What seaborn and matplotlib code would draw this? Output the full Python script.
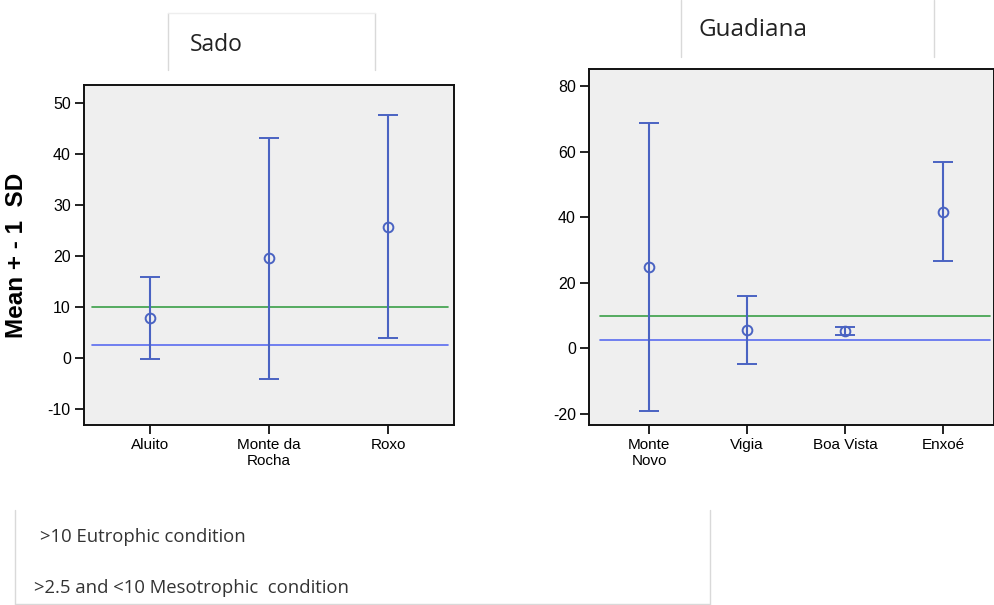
import numpy as np
import pandas as pd
import matplotlib
matplotlib.use("Agg")
import matplotlib.pyplot as plt
import seaborn as sns

# Sado reservoirs: mean and 1 SD
sado_sites = ["Aluito", "Monte da\nRocha", "Roxo"]
sado_mean = [7.8, 19.5, 25.7]
sado_sd = [8.0, 23.7, 21.9]

# Guadiana reservoirs
guad_sites = ["Monte\nNovo", "Vigia", "Boa Vista", "Enxoé"]
guad_mean = [24.8, 5.6, 5.4, 41.7]
guad_sd = [43.9, 10.3, 1.2, 15.0]

# trophic thresholds
eutrophic = 10
mesotrophic = 2.5

sado_ticks = [-10, 0, 10, 20, 30, 40, 50]
guad_ticks = [-20, 0, 20, 40, 60, 80]

bar_col = "#4a63c2"
green = "#3a9f48"
blue_line = "#5a6cf0"

sns.set_style("ticks")
plt.rcParams["font.family"] = ["Liberation Sans", "DejaVu Sans"]

fig = plt.figure(figsize=(9.94, 6.05), dpi=100)
ax1 = fig.add_axes([84/994, 180/605, 370/994, 340/605])
ax2 = fig.add_axes([589/994, 180/605, 405/994, 356/605])


def panel(ax, sites, means, sds, ticks, ylim, xlim, line_span, capsize):
    df = pd.DataFrame({"site": sites, "mean": means, "sd": sds})
    x = np.arange(len(df))
    ax.set_facecolor("#efefef")
    ax.axhline(eutrophic, xmin=line_span[0], xmax=line_span[1], color=green, lw=1.2, zorder=2)
    ax.axhline(mesotrophic, xmin=line_span[0], xmax=line_span[1], color=blue_line, lw=1.2, zorder=2)
    ax.errorbar(x, df["mean"], yerr=df["sd"], fmt="o", mfc="none", mec=bar_col,
                ms=7, mew=1.4, ecolor=bar_col, elinewidth=1.5, capsize=capsize,
                capthick=1.5, zorder=3)
    ax.set_xticks(x)
    ax.set_xticklabels(df["site"], fontsize=11, color="black")
    ax.set_yticks(ticks)
    ax.set_yticklabels([str(t) for t in ticks], fontsize=11.5, color="black")
    ax.set_xlim(*xlim)
    ax.set_ylim(*ylim)
    ax.tick_params(length=6.5, width=1.3, color="#111111", pad=3)
    for s in ["top", "right", "left", "bottom"]:
        ax.spines[s].set_visible(True)
        ax.spines[s].set_linewidth(1.4)
        ax.spines[s].set_color("#111111")


panel(ax1, sado_sites, sado_mean, sado_sd, sado_ticks, (-13.2, 53.5), (-0.555, 2.555),
      (0.022, 0.984), 7.5)
panel(ax2, guad_sites, guad_mean, guad_sd, guad_ticks, (-23.4, 85.2), (-0.614, 3.52),
      (0.027, 0.99), 7)

ax1.set_ylabel("Mean + - 1  SD", fontsize=17.5, fontweight="bold", color="black")
ax1.yaxis.set_label_coords(-0.152, 0.5)

# title boxes
gray = "#d9d9d9"
fig.add_artist(plt.Line2D([168/994, 168/994], [1 - 70/605, 1 - 13/605], color=gray, lw=1))
fig.add_artist(plt.Line2D([375/994, 375/994], [1 - 70/605, 1 - 13/605], color=gray, lw=1))
fig.add_artist(plt.Line2D([168/994, 375/994], [1 - 13/605, 1 - 13/605], color="#eeeeee", lw=1))
fig.text(190/994, 1 - 45/605, "Sado", fontsize=16.5, family=["Open Sans", "DejaVu Sans"],
         va="center", ha="left", color="#222222")

fig.add_artist(plt.Line2D([681/994, 681/994], [1 - 57/605, 1.0], color=gray, lw=1))
fig.add_artist(plt.Line2D([934/994, 934/994], [1 - 57/605, 1.0], color=gray, lw=1))
fig.text(698/994, 1 - 30/605, "Guadiana", fontsize=17.5, family=["Open Sans", "DejaVu Sans"],
         va="center", ha="left", color="#222222")

# legend box
fig.add_artist(plt.Line2D([15/994, 15/994], [1 - 510/605, 1 - 604/605], color=gray, lw=1))
fig.add_artist(plt.Line2D([710/994, 710/994], [1 - 510/605, 1 - 604/605], color=gray, lw=1))
fig.add_artist(plt.Line2D([15/994, 710/994], [1 - 604/605, 1 - 604/605], color=gray, lw=1))
fig.text(40/994, 1 - 537/605, ">10 Eutrophic condition", fontsize=13.3,
         family=["Open Sans", "DejaVu Sans"], va="center", color="#333333")
fig.text(34/994, 1 - 588/605, ">2.5 and <10 Mesotrophic  condition", fontsize=13.3,
         family=["Open Sans", "DejaVu Sans"], va="center", color="#333333")

fig.savefig("out.png", dpi=100, facecolor="white")
